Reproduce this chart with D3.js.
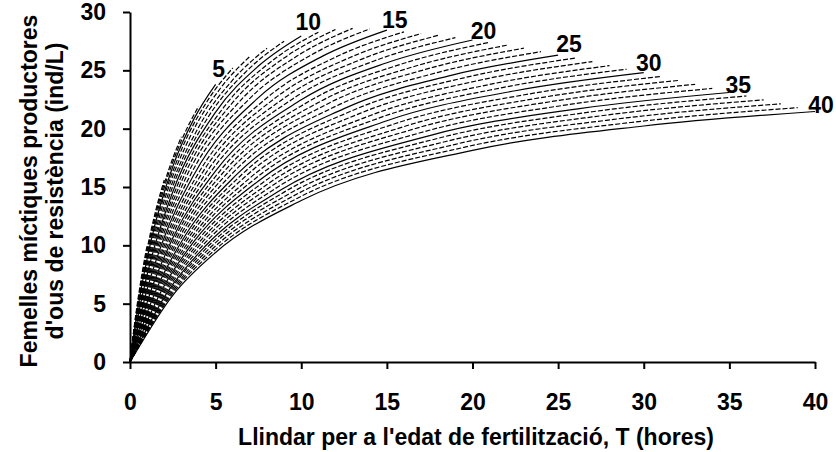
<!DOCTYPE html>
<html>
<head>
<meta charset="utf-8">
<script src="https://cdn.jsdelivr.net/npm/d3@7"></script>
<style>
  body { margin: 0; background: #fff; }
  svg { display: block; }
  text { font-family: "Liberation Sans", Arial, Helvetica, sans-serif; font-weight: bold; fill: #000; }
</style>
</head>
<body>
<svg id="chart" width="836" height="452"></svg>
<script>
// Each curve ends at its own threshold T (hours); curve n spans T = 0 .. n.
const curveEnds = [1,2,3,4,5,6,7,8,9,10,11,12,13,14,15,16,17,18,19,20,
                   21,22,23,24,25,26,27,28,29,30,31,32,33,34,35,36,37,38,39,40];

// Points sampled along each curve, as a share of its own span.
const spanFractions = [0, 0.0625, 0.125, 0.25, 0.5, 0.75, 1];

// Resting-egg producing mictic females (ind/L) at those points, one entry per curve.
const yAtSixteenth = [0.82,1.53,2.18,2.75,3.26,3.71,4.10,4.44,4.74,5.02,5.25,5.47,5.63,5.77,5.89,5.97,6.06,6.13,6.19,6.23,
                      6.27,6.30,6.32,6.31,6.31,6.31,6.30,6.27,6.24,6.22,6.18,6.14,6.10,6.04,5.99,5.95,5.89,5.84,5.78,5.72];
const yAtEighth = [1.60,2.95,4.13,5.16,6.04,6.81,7.46,8.00,8.49,8.92,9.28,9.61,9.86,10.05,10.20,10.31,10.42,10.51,10.57,10.62,
                   10.66,10.67,10.67,10.65,10.61,10.59,10.55,10.48,10.42,10.36,10.28,10.19,10.11,10.00,9.90,9.82,9.72,9.61,9.50,9.39];
const yAtQuarter = [3.08,5.50,7.50,9.16,10.53,11.68,12.62,13.36,14.04,14.60,15.07,15.46,15.76,15.95,16.10,16.19,16.28,16.34,16.36,16.38,
                    16.37,16.34,16.29,16.20,16.10,16.03,15.92,15.77,15.65,15.52,15.37,15.21,15.06,14.88,14.70,14.56,14.38,14.20,14.02,13.84];
const yAtHalf = [5.71,9.68,12.66,14.96,16.76,18.18,19.28,20.11,20.84,21.42,21.88,22.25,22.49,22.60,22.66,22.65,22.65,22.62,22.55,22.47,
                 22.38,22.24,22.10,21.91,21.72,21.56,21.35,21.11,20.89,20.68,20.44,20.18,19.94,19.67,19.41,19.18,18.92,18.66,18.40,18.14];
const yAtThreeQuarters = [8.00,12.96,16.43,18.97,20.88,22.33,23.40,24.18,24.85,25.37,25.76,26.06,26.22,26.25,26.22,26.13,26.04,25.94,25.80,25.65,
                          25.49,25.29,25.08,24.83,24.57,24.36,24.10,23.79,23.52,23.25,22.96,22.66,22.36,22.04,21.72,21.45,21.15,20.84,20.53,20.23];
const yAtEnd = [10.0,15.6,19.3,21.9,23.8,25.2,26.2,26.9,27.5,27.95,28.27,28.5,28.6,28.55,28.45,28.3,28.15,28.0,27.8,27.6,
                27.4,27.15,26.9,26.6,26.3,26.05,25.75,25.4,25.1,24.8,24.47,24.13,23.8,23.45,23.1,22.8,22.47,22.13,21.8,21.47];

// Curves carrying a text label at their end.
const labeledCurves = [5, 10, 15, 20, 25, 30, 35, 40];
// Pixel nudge of each label from its curve end (style only).
const labelNudge = [[3,-15],[7,-14],[8,-10],[11,-9],[11,-11],[5,-10],[9,-8],[6,-7]];

const xTicks = [0, 5, 10, 15, 20, 25, 30, 35, 40];
const yTicks = [0, 5, 10, 15, 20, 25, 30];

const xTitle = "Llindar per a l'edat de fertilització, T (hores)";
const yTitleLines = ["Femelles míctiques productores", "d'ous de resistència (ind/L)"];

const svg = d3.select("#chart");
const FONT = 23;

const x = d3.scaleLinear().domain([0, 40]).range([130, 815]);
const y = d3.scaleLinear().domain([0, 30]).range([362, 12]);

const sampleCols = [yAtSixteenth, yAtEighth, yAtQuarter, yAtHalf, yAtThreeQuarters, yAtEnd];

const curves = curveEnds.map((T, i) => ({
  T,
  points: spanFractions.map((f, k) => [T * f, k === 0 ? 0 : sampleCols[k - 1][i]])
}));

const line = d3.line()
  .x(d => x(d[0]))
  .y(d => y(d[1]))
  .curve(d3.curveMonotoneX);

// Draw the longest curves first so shorter ones sit on top.
svg.append("g")
  .selectAll("path")
  .data(curves.slice().reverse())
  .join("path")
  .attr("d", d => line(d.points))
  .attr("fill", "none")
  .attr("stroke", "#000")
  .attr("stroke-width", 1.2)
  .attr("stroke-dasharray", d => (d.T % 5 === 0 ? null : "5,2"));

// Axes
const xAxis = svg.append("g")
  .attr("transform", `translate(0,${y(0)})`)
  .call(d3.axisBottom(x).tickValues(xTicks).tickSize(7).tickSizeOuter(0).tickPadding(25));
const yAxis = svg.append("g")
  .attr("transform", `translate(${x(0)},0)`)
  .call(d3.axisLeft(y).tickValues(yTicks).tickSize(7).tickSizeOuter(0).tickPadding(17));

[xAxis, yAxis].forEach(g => {
  g.select(".domain").attr("stroke", "#000").attr("stroke-width", 2);
  g.selectAll(".tick line").attr("stroke", "#000").attr("stroke-width", 2);
  g.selectAll(".tick text")
    .attr("font-size", FONT)
    .attr("font-family", "Liberation Sans, Arial, sans-serif")
    .attr("font-weight", "bold")
    .attr("fill", "#000");
});

// Curve labels
svg.append("g")
  .selectAll("text")
  .data(labeledCurves)
  .join("text")
  .attr("x", (d, i) => x(d) + labelNudge[i][0])
  .attr("y", (d, i) => y(yAtEnd[curveEnds.indexOf(d)]) + labelNudge[i][1] + 8)
  .attr("text-anchor", "middle")
  .attr("font-size", FONT)
  .text(d => d);

// Axis titles
svg.append("text")
  .attr("x", 476)
  .attr("y", 445)
  .attr("text-anchor", "middle")
  .attr("font-size", FONT)
  .text(xTitle);

svg.append("g")
  .attr("transform", "translate(0,191) rotate(-90)")
  .selectAll("text")
  .data(yTitleLines)
  .join("text")
  .attr("x", 0)
  .attr("y", (d, i) => 37 + i * 26)
  .attr("text-anchor", "middle")
  .attr("font-size", FONT)
  .text(d => d);
</script>
</body>
</html>
